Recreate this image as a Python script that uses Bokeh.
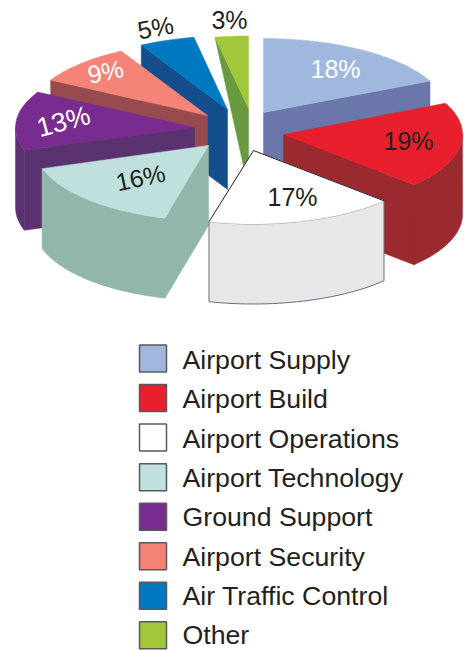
import math
from bokeh.plotting import figure
from bokeh.models import Range1d
from bokeh.core.properties import value
from bokeh.embed import file_html
from bokeh.resources import INLINE

# ---- data ----
categories = ["Airport Supply", "Airport Build", "Airport Operations", "Airport Technology",
              "Ground Support", "Airport Security", "Air Traffic Control", "Other"]
shares = [18, 19, 17, 16, 13, 9, 5, 3]

# ---- styles ----
top_colors = ["#A0B8DE", "#E81F2C", "#FFFFFF", "#BFE0DC", "#792C90", "#F58377", "#0079C0", "#A1C83B"]
side_colors = ["#6B76AB", "#9A2A2F", "#E6E7E8", "#93B6AA", "#5B3270", "#984B4E", "#154E8C", "#6A9A40"]
label_colors = ["#FFFFFF", "#231F20", "#231F20", "#231F20", "#FFFFFF", "#FFFFFF", "#231F20", "#231F20"]

# ---- layout (page pixels) ----
rx = [184, 179, 179, 175, 179, 179, 179, 179]
ry = [74, 73.5, 73.5, 75, 73.5, 73.5, 73.5, 72.5]
DEPTH = 80
apex = [(263, 112), (283, 134), (253, 150), (208, 145), (194, 127), (207, 115), (227, 109), (248, 108)]
label_offset = [(72, -44), (125, 6), (39, 46), (-68, 32), (-131, -6), (-102, -44), (-72, -82), (-19, -89)]
label_angle = [0, 0, 0, 12, 15, 12, 10, 0]
label_size = ["25px", "25px", "25px", "25px", "27px", "25px", "25px", "25px"]
LEGEND_X, LEGEND_Y, LEGEND_STEP, SWATCH = 152.5, 358, 39.55, 27
LEGEND_TEXT_X, LEGEND_TEXT_Y, LEGEND_TEXT_STEP = 182, 359.5, 39.3
LEGEND_SIZE = "26.7px"

W, H = 464, 650
p = figure(width=W, height=H, x_range=Range1d(0, W), y_range=Range1d(H, 0),
           output_backend="svg", toolbar_location=None, min_border=0)
p.axis.visible = False
p.grid.visible = False
p.outline_line_color = None
p.background_fill_color = "#FFFFFF"


def rim(i, deg, dz=0):
    a = math.radians(deg)
    return apex[i][0] + rx[i] * math.sin(a), apex[i][1] - ry[i] * math.cos(a) + dz


def arc(i, a0, a1, dz=0):
    n = max(2, int(abs(a1 - a0) / 2) + 1)
    return [rim(i, a0 + (a1 - a0) * k / (n - 1), dz) for k in range(n)]


def poly(pts, color, line=None, width=1):
    p.patch([q[0] for q in pts], [q[1] for q in pts], fill_color=color,
            line_color=line if line else color, line_width=width if line else 0.5)


total = sum(shares)
bounds = [0]
for s in shares:
    bounds.append(bounds[-1] + 360 * s / total)

# painter's order: back-left slices first, Operations last
order = [7, 6, 5, 4, 3, 0, 1, 2]
for i in order:
    a0, a1 = bounds[i], bounds[i + 1]
    ax, ay = apex[i]
    side = side_colors[i]
    # cut faces
    if i == 7:  # the reference tapers this small slice's face to a point
        poly([rim(i, a0), (ax, ay), (ax, ay + DEPTH)], side)
    else:
        if a1 < 180:
            poly([(ax, ay), rim(i, a1), rim(i, a1, DEPTH), (ax, ay + DEPTH)], side)
        if a0 > 180:
            poly([(ax, ay), rim(i, a0), rim(i, a0, DEPTH), (ax, ay + DEPTH)], side)
    # outer wall
    lo, hi = max(a0, 90), min(a1, 270)
    if lo < hi:
        wall = arc(i, lo, hi) + arc(i, hi, lo, DEPTH)
        poly(wall, side, line="#6D6E71" if i == 2 else None)
    # top face
    poly([(ax, ay)] + arc(i, a0, a1), top_colors[i])
    if i == 2:
        pts = [rim(i, a1), (ax, ay), rim(i, a0)]
        p.line([q[0] for q in pts], [q[1] for q in pts], line_color="#231F20", line_width=1)

# percentage labels
for i, s in enumerate(shares):
    p.text([apex[i][0] + label_offset[i][0]], [apex[i][1] + label_offset[i][1]], text=[f"{s}%"],
           text_font=value("Liberation Sans"), text_font_size=label_size[i], text_color=label_colors[i],
           text_align="center", text_baseline="middle", angle=label_angle[i], angle_units="deg")

# legend
for i, c in enumerate(categories):
    y = LEGEND_Y + i * LEGEND_STEP
    p.rect([LEGEND_X], [y], width=SWATCH, height=SWATCH, fill_color=top_colors[i],
           line_color="#58595B", line_width=1.5)
    p.text([LEGEND_TEXT_X], [LEGEND_TEXT_Y + i * LEGEND_TEXT_STEP], text=[c], text_font=value("Liberation Sans"),
           text_font_size=LEGEND_SIZE, text_color="#231F20", text_align="left", text_baseline="middle")

open("out.html", "w").write(file_html(p, INLINE))
